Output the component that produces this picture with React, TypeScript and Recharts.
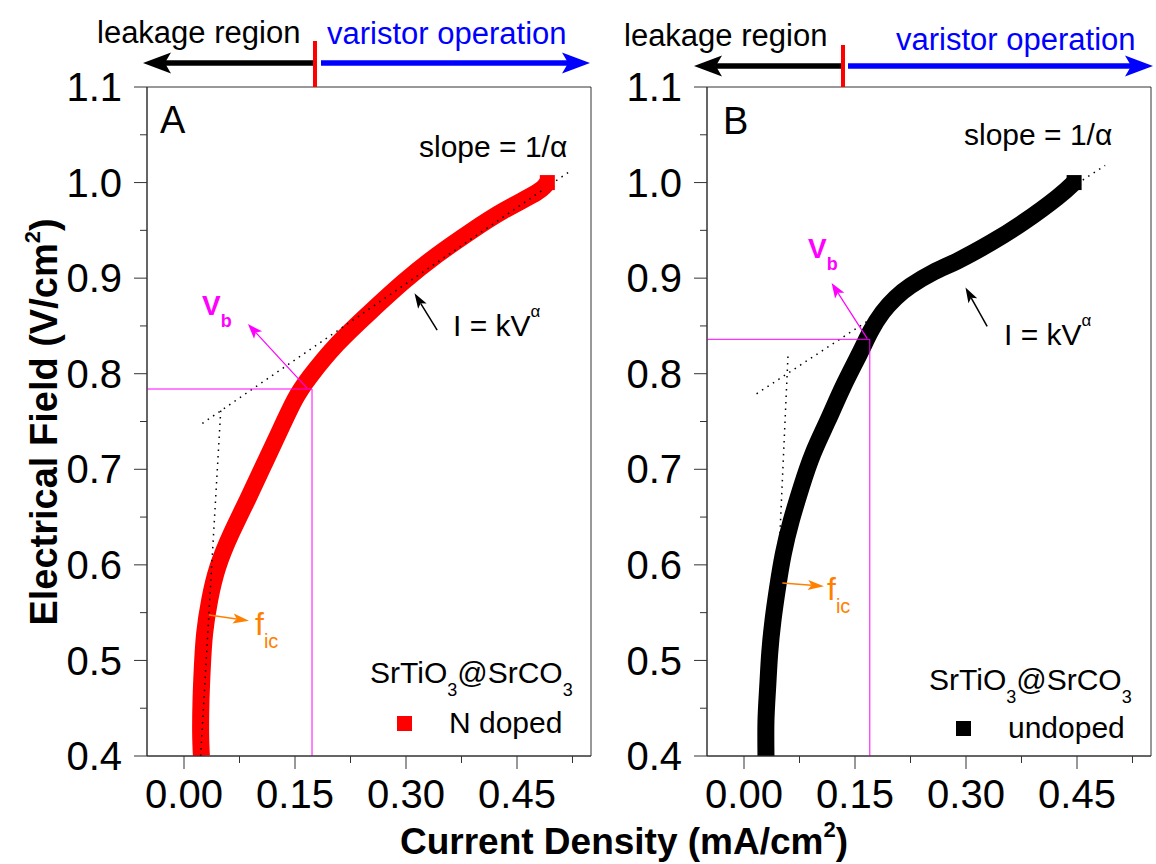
import React from "react";
import {
  ComposedChart,
  Line,
  XAxis,
  YAxis,
  ReferenceLine,
  ReferenceArea,
} from "recharts";

const FONT = "'Liberation Sans', Arial, Helvetica, sans-serif";
const W = 1156;
const H = 864;

const AXIS = "#333";
const RED = "#ff0000";
const BLUE = "#0000ff";
const MAGENTA = "#ff00ff";
const ORANGE = "#ff8000";

// axes
const X_DOMAIN: [number, number] = [-0.05, 0.55];
const Y_DOMAIN: [number, number] = [0.4, 1.1];
const xMajorTicks = [0, 0.15, 0.3, 0.45];
const xMinorTicks = [0.075, 0.225, 0.375, 0.525];
const yMajorTicks = [0.4, 0.5, 0.6, 0.7, 0.8, 0.9, 1.0, 1.1];
const yMinorTicks = [0.45, 0.55, 0.65, 0.75, 0.85, 0.95, 1.05];

// N doped sample: current density (mA/cm2) vs field (V/cm2)
const nDopedJ = [0.0235, 0.0225, 0.023, 0.0248, 0.0279, 0.0347, 0.0459, 0.064, 0.0856, 0.1067, 0.1279, 0.1495, 0.1711, 0.2071, 0.2521, 0.297, 0.3421, 0.3871, 0.432, 0.4771, 0.491];
const nDopedE = [0.400, 0.4237, 0.4586, 0.4934, 0.5284, 0.5632, 0.5981, 0.633, 0.6679, 0.7027, 0.7377, 0.7725, 0.7979, 0.8311, 0.8649, 0.8963, 0.9242, 0.9486, 0.9706, 0.9898, 1.000];

// undoped sample
const undopedJ = [0.0297, 0.0297, 0.032, 0.0347, 0.0392, 0.0455, 0.0532, 0.064, 0.0775, 0.0932, 0.1134, 0.1337, 0.1562, 0.1711, 0.1873, 0.2048, 0.2251, 0.2565, 0.2881, 0.3331, 0.378, 0.4231, 0.4461];
const undopedE = [0.400, 0.4373, 0.4722, 0.5071, 0.542, 0.5768, 0.6118, 0.6466, 0.6815, 0.7164, 0.7512, 0.7861, 0.821, 0.8444, 0.8643, 0.8794, 0.892, 0.9064, 0.9179, 0.9368, 0.9587, 0.9843, 1.000];

// fitted power-law line (slope = 1/alpha) and low-field tangent
const fitNDopedJ = [0.0248, 0.52];
const fitNDopedE = [0.748, 1.011];
const ficNDopedJ = [0.0225, 0.050];
const ficNDopedE = [0.400, 0.766];
const fitUndopedJ = [0.017, 0.488];
const fitUndopedE = [0.779, 1.018];
const ficUndopedJ = [0.0486, 0.0594];
const ficUndopedE = [0.633, 0.818];

// breakdown field V_b (J, E)
const vbNDoped = [0.173, 0.784];
const vbUndoped = [0.170, 0.836];

type Pt = { x: number; y: number };
const zip = (xs: number[], ys: number[]): Pt[] => xs.map((x, i) => ({ x, y: ys[i] }));

const TICK = 13;
const MINOR = 7;
const Y_MARGIN = 12;
const X_MARGIN = 11;
const BAND = 17;

const isIn = (list: number[], v: number) => list.some((t) => Math.abs(t - v) < 1e-6);

function YTick(props: any) {
  const { x, y, payload } = props;
  const v = payload.value as number;
  const major = isIn(yMajorTicks, v);
  const ax = x + TICK + Y_MARGIN;
  return (
    <g>
      <line x1={ax - (major ? TICK : MINOR)} x2={ax} y1={y} y2={y} stroke={AXIS} strokeWidth={1} />
      {major && (
        <text x={x} y={y} dy="0.355em" textAnchor="end" fontSize={40} fill="#000" fontFamily={FONT}>
          {v.toFixed(1)}
        </text>
      )}
    </g>
  );
}

function XTick(props: any) {
  const { x, y, payload } = props;
  const v = payload.value as number;
  const major = isIn(xMajorTicks, v);
  const ay = y - TICK - X_MARGIN;
  return (
    <g>
      <line x1={x} x2={x} y1={ay} y2={ay + (major ? TICK : MINOR)} stroke={AXIS} strokeWidth={1} />
      {major && (
        <text x={x} y={y} dy="0.71em" textAnchor="middle" fontSize={40} fill="#000" fontFamily={FONT}>
          {v.toFixed(2)}
        </text>
      )}
    </g>
  );
}

function arrowGeom(x1: number, y1: number, x2: number, y2: number, head: number, headW: number) {
  const len = Math.hypot(x2 - x1, y2 - y1) || 1;
  const ux = (x2 - x1) / len;
  const uy = (y2 - y1) / len;
  const nx = -uy;
  const ny = ux;
  const bx = x2 - ux * head;
  const by = y2 - uy * head;
  const mx = bx + ux * head * 0.22;
  const my = by + uy * head * 0.22;
  const pts = `${x2},${y2} ${bx + (nx * headW) / 2},${by + (ny * headW) / 2} ${mx},${my} ${bx - (nx * headW) / 2},${by - (ny * headW) / 2}`;
  return { mx, my, pts };
}

function Arrow({ x1, y1, x2, y2, color, width, head, headW }: any) {
  const g = arrowGeom(x1, y1, x2, y2, head, headW);
  return (
    <g>
      <line x1={x1} y1={y1} x2={g.mx} y2={g.my} stroke={color} strokeWidth={width} />
      <polygon points={g.pts} fill={color} />
    </g>
  );
}

const arrowShape = (color: string, width: number, head: number, headW: number) => (p: any) =>
  <Arrow x1={p.x1} y1={p.y1} x2={p.x2} y2={p.y2} color={color} width={width} head={head} headW={headW} />;

// square marker only on the last measured point (the top end of the band)
const endSquare = (color: string, last: number) => (p: any) =>
  p.index === last ? (
    <rect key={`end-${p.index}`} x={p.cx - 7.5} y={p.cy - 7.5} width={15} height={15} fill={color} />
  ) : (
    <g key={`dot-${p.index}`} />
  );

type Seg = [number, number, number, number];

type PanelSpec = {
  left: number;
  width: number;
  rightMargin: number;
  curve: Pt[];
  color: string;
  fit: Pt[];
  fic: Pt[];
  vb: number[];
  vbArrow: Seg;
  kvArrow: Seg;
  ficArrow: Seg;
};

const seg = (s: Seg) => [{ x: s[0], y: s[1] }, { x: s[2], y: s[3] }];

function Panel({ spec }: { spec: PanelSpec }) {
  const [vbJ, vbE] = spec.vb;
  return (
    <div style={{ position: "absolute", left: spec.left, top: 0 }}>
      <ComposedChart
        width={spec.width}
        height={H}
        margin={{ top: 87, right: spec.rightMargin, bottom: 48, left: 47 }}
      >
        <XAxis
          type="number"
          dataKey="x"
          domain={X_DOMAIN}
          allowDataOverflow
          ticks={[...xMajorTicks, ...xMinorTicks].sort((a, b) => a - b)}
          interval={0}
          tickLine={false}
          tickSize={TICK}
          tickMargin={X_MARGIN}
          tick={<XTick />}
          axisLine={{ stroke: AXIS }}
          height={60}
        />
        <YAxis
          type="number"
          domain={Y_DOMAIN}
          allowDataOverflow
          ticks={[...yMajorTicks, ...yMinorTicks].sort((a, b) => a - b)}
          interval={0}
          tickLine={false}
          tickSize={TICK}
          tickMargin={Y_MARGIN}
          tick={<YTick />}
          axisLine={{ stroke: AXIS }}
          width={100}
        />
        <ReferenceArea
          x1={X_DOMAIN[0]}
          x2={X_DOMAIN[1]}
          y1={Y_DOMAIN[0]}
          y2={Y_DOMAIN[1]}
          fill="none"
          stroke={AXIS}
          strokeWidth={1}
          ifOverflow="visible"
        />
        <Line
          data={spec.curve}
          dataKey="y"
          type="natural"
          stroke={spec.color}
          strokeWidth={BAND}
          dot={endSquare(spec.color, spec.curve.length - 1)}
          activeDot={false}
          isAnimationActive={false}
        />
        <Line data={spec.fit} dataKey="y" type="linear" stroke="#000" strokeWidth={1.5}
          strokeDasharray="1.5 5" dot={false} activeDot={false} isAnimationActive={false} />
        <Line data={spec.fic} dataKey="y" type="linear" stroke="#000" strokeWidth={1.5}
          strokeDasharray="1.5 5" dot={false} activeDot={false} isAnimationActive={false} />
        <ReferenceLine segment={[{ x: X_DOMAIN[0], y: vbE }, { x: vbJ, y: vbE }]} stroke={MAGENTA} strokeWidth={1} ifOverflow="visible" />
        <ReferenceLine segment={[{ x: vbJ, y: Y_DOMAIN[0] }, { x: vbJ, y: vbE }]} stroke={MAGENTA} strokeWidth={1} ifOverflow="visible" />
        <ReferenceLine segment={seg(spec.vbArrow)} ifOverflow="visible" shape={arrowShape(MAGENTA, 1.2, 15, 11)} />
        <ReferenceLine segment={seg(spec.kvArrow)} ifOverflow="visible" shape={arrowShape("#000", 1.5, 15, 10)} />
        <ReferenceLine segment={seg(spec.ficArrow)} ifOverflow="visible" shape={arrowShape(ORANGE, 1.5, 16, 10)} />
      </ComposedChart>
    </div>
  );
}

const panelA: PanelSpec = {
  left: 0,
  width: 600,
  rightMargin: 9,
  curve: zip(nDopedJ, nDopedE),
  color: RED,
  fit: zip(fitNDopedJ, fitNDopedE),
  fic: zip(ficNDopedJ, ficNDopedE),
  vb: vbNDoped,
  vbArrow: [0.1666, 0.7847, 0.0864, 0.852],
  kvArrow: [0.3421, 0.8457, 0.3115, 0.8841],
  ficArrow: [0.0338, 0.5475, 0.0878, 0.5416],
};

const panelB: PanelSpec = {
  left: 560,
  width: 596,
  rightMargin: 5,
  curve: zip(undopedJ, undopedE),
  color: "#000",
  fit: zip(fitUndopedJ, fitUndopedE),
  fic: zip(ficUndopedJ, ficUndopedE),
  vb: vbUndoped,
  vbArrow: [0.1666, 0.8367, 0.1184, 0.8949],
  kvArrow: [0.3286, 0.8496, 0.2993, 0.8901],
  ficArrow: [0.0518, 0.581, 0.108, 0.5775],
};

function PanelText({ dx, letter, slopeY, slopeX, kvX, kvY, vbX, vbY, fX, fY, legX, legY, name, nameX, nameY, sqX, sqY, color }: any) {
  return (
    <g>
      <text x={dx} y={letter[1]} fontSize={38}>{letter[0]}</text>
      <text x={slopeX} y={slopeY} fontSize={30}>slope = 1/α</text>
      <text x={kvX} y={kvY} fontSize={30}>
        I = kV<tspan fontSize={17} dy={-19}>α</tspan>
      </text>
      <text x={vbX} y={vbY} fontSize={28} fontWeight="bold" fill={MAGENTA}>
        V<tspan fontSize={18} dy={12}>b</tspan>
      </text>
      <text x={fX} y={fY} fontSize={32} fill={ORANGE}>
        f<tspan fontSize={20} dy={13}>ic</tspan>
      </text>
      <text x={legX} y={legY} fontSize={30}>
        SrTiO<tspan fontSize={18} dy={13}>3</tspan>
        <tspan dy={-13}>@SrCO</tspan>
        <tspan fontSize={18} dy={13}>3</tspan>
      </text>
      <rect x={sqX} y={sqY} width={15} height={15} fill={color} />
      <text x={nameX} y={nameY} fontSize={30}>{name}</text>
    </g>
  );
}

function Overlay() {
  return (
    <svg
      width={W}
      height={H}
      style={{ position: "absolute", left: 0, top: 0, pointerEvents: "none" }}
      fontFamily={FONT}
      fill="#000"
    >
      {/* region arrows above each panel */}
      <text x={97} y={43} fontSize={31}>leakage region</text>
      <text x={327} y={44} fontSize={31} fill={BLUE}>varistor operation</text>
      <Arrow x1={314} y1={63} x2={143} y2={63} color="#000" width={5.5} head={28} headW={21} />
      <Arrow x1={321} y1={63} x2={590} y2={63} color={BLUE} width={5.5} head={28} headW={21} />
      <line x1={315} x2={315} y1={41} y2={87} stroke={RED} strokeWidth={4} />

      <text x={624} y={46} fontSize={31}>leakage region</text>
      <text x={896} y={50} fontSize={31} fill={BLUE}>varistor operation</text>
      <Arrow x1={841} y1={66} x2={694} y2={66} color="#000" width={5.5} head={28} headW={21} />
      <Arrow x1={848} y1={66} x2={1153} y2={66} color={BLUE} width={5.5} head={28} headW={21} />
      <line x1={843} x2={843} y1={45} y2={87} stroke={RED} strokeWidth={4} />

      <PanelText
        dx={160} letter={["A", 133]}
        slopeX={419} slopeY={157}
        kvX={453} kvY={336}
        vbX={202} vbY={315}
        fX={255} fY={635}
        legX={370} legY={683}
        name="N doped" nameX={449} nameY={733}
        sqX={397} sqY={716} color={RED}
      />
      <PanelText
        dx={723} letter={["B", 134]}
        slopeX={964} slopeY={145}
        kvX={1004} kvY={345}
        vbX={808} vbY={258}
        fX={827} fY={600}
        legX={929} legY={690}
        name="undoped" nameX={1008} nameY={738}
        sqX={956} sqY={721} color="#000"
      />

      {/* axis titles */}
      <text x={57} y={422} transform="rotate(-90, 57, 422)" textAnchor="middle" fontSize={38} fontWeight="bold">
        Electrical Field (V/cm<tspan fontSize={22} dy={-17}>2</tspan>
        <tspan dy={17}>)</tspan>
      </text>
      <text x={624} y={854} textAnchor="middle" fontSize={37} fontWeight="bold">
        Current Density (mA/cm<tspan fontSize={22} dy={-17}>2</tspan>
        <tspan dy={17}>)</tspan>
      </text>
    </svg>
  );
}

export default function App() {
  return (
    <div
      style={{
        position: "absolute",
        left: 0,
        top: 0,
        width: W,
        height: H,
        background: "#fff",
        fontFamily: FONT,
        overflow: "hidden",
      }}
    >
      <Panel spec={panelA} />
      <Panel spec={panelB} />
      <Overlay />
    </div>
  );
}
